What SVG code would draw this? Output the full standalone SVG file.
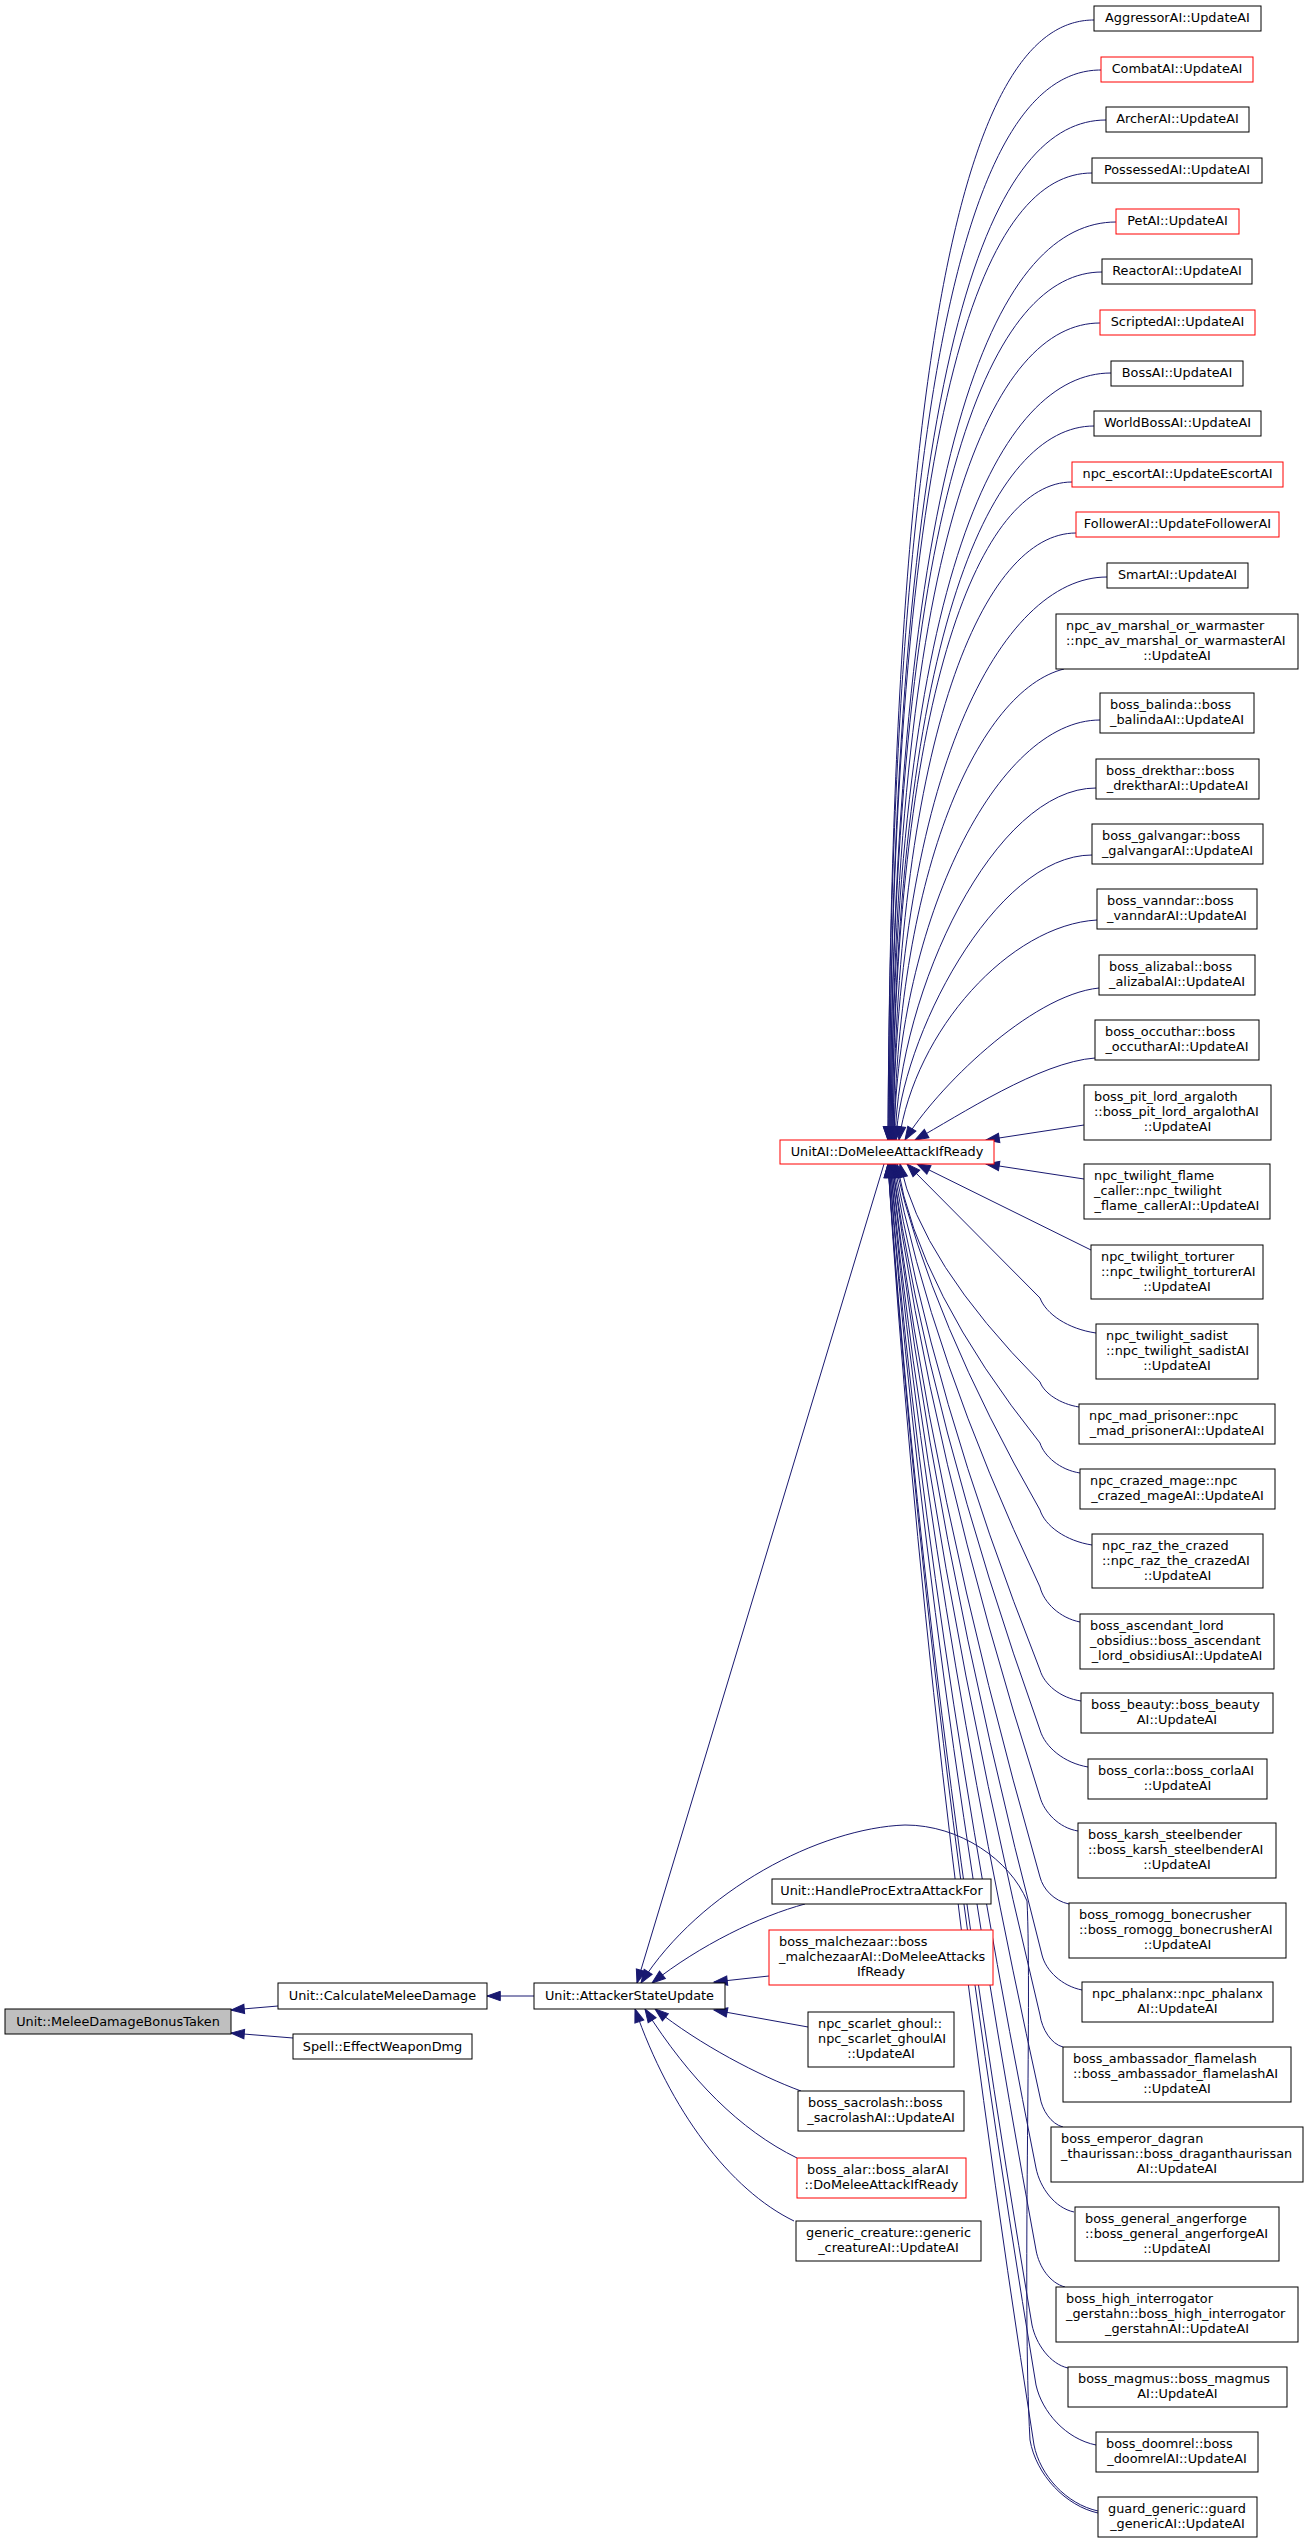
<svg xmlns="http://www.w3.org/2000/svg" width="1309" height="2543" viewBox="0 0 1309 2543">
<style>
text{font-family:"DejaVu Sans","Liberation Sans",sans-serif;font-size:12.85px;fill:#000}
.c{text-anchor:middle}
.n rect{fill:#fff;stroke:#000;stroke-width:1}
.r rect{stroke:#f00}
.g rect{fill:#bfbfbf}
.e path{fill:none;stroke:#191970;stroke-width:1;marker-end:url(#ah)}
</style>
<defs>
<marker id="ah" markerUnits="userSpaceOnUse" markerWidth="14" markerHeight="10" refX="13.3" refY="4.7" orient="auto" viewBox="0 0 14 10" style="overflow:visible">
<path d="M0,0 L13.3,4.7 L0,9.4 z" fill="#191970" stroke="#191970" stroke-width="1"/>
</marker>
</defs>
<rect width="1309" height="2543" fill="#fff"/>
<g id="edges" class="e">
<path d="M534,1996 L487,1996"/>
<path d="M278,2006 L231,2010"/>
<path d="M293,2038 L231,2033"/>
<path d="M884,1164 L637,1983"/>
<path d="M1098,2513 C1066,2506 1036,2475 1030,2440 C1022,2300 1032,2000 1027,1901 C1010,1860 960,1825 905,1825 C820,1828 700,1890 641,1983"/>
<path d="M805,1904 C760,1916 700,1945 652,1983"/>
<path d="M769,1976 L714,1982"/>
<path d="M808,2027 L714,2010"/>
<path d="M801,2091 C760,2076 700,2045 655,2009"/>
<path d="M797,2158 C740,2130 690,2080 645,2009"/>
<path d="M794,2221 C730,2190 670,2110 635,2009"/>
<path d="M1094,20 C991,20 892,220 888,1140"/>
<path d="M1101,70 C994,70 892,270 888,1140"/>
<path d="M1106,120 C997,120 893,320 889,1140"/>
<path d="M1092,173 C990,173 893,373 889,1140"/>
<path d="M1116,222 C1003,222 894,422 890,1140"/>
<path d="M1102,272 C996,272 894,472 890,1140"/>
<path d="M1100,323 C995,323 895,523 891,1140"/>
<path d="M1111,373 C1001,373 895,573 891,1140"/>
<path d="M1094,426 C993,426 896,626 892,1140"/>
<path d="M1072,482 C982,482 896,682 892,1140"/>
<path d="M1076,533 C984,533 897,733 893,1140"/>
<path d="M1107,577 C1000,577 897,777 893,1140"/>
<path d="M1064,669 C979,690 898,869 894,1140"/>
<path d="M1100,720 C997,720 898,920 894,1140"/>
<path d="M1096,788 C995,788 899,988 895,1140"/>
<path d="M1092,855 C994,855 900,1040 896,1140"/>
<path d="M1097,920 C1010,925 915,1030 899,1140"/>
<path d="M1099,988 C1030,995 935,1090 905,1140"/>
<path d="M1095,1058 C1040,1062 960,1115 915,1140"/>
<path d="M1084,1125 L986,1140"/>
<path d="M1084,1179 L986,1164"/>
<path d="M1091,1250 L917,1164"/>
<path d="M1096,1333 C1068,1329 1046,1314 1040,1298 L907,1164"/>
<path d="M1079,1407 C1060,1404 1044,1393 1040,1382 Q921,1262 900,1164"/>
<path d="M1080,1473 C1060,1470 1044,1456 1040,1443 Q918,1290 897,1164"/>
<path d="M1092,1545 C1066,1541 1045,1526 1040,1510 Q931,1320 895,1164"/>
<path d="M1080,1622 C1060,1618 1044,1603 1040,1587 Q930,1354 894,1164"/>
<path d="M1081,1701 C1060,1698 1044,1684 1040,1670 Q930,1392 893,1164"/>
<path d="M1088,1767 C1064,1763 1045,1747 1040,1730 Q929,1419 892,1164"/>
<path d="M1078,1831 C1059,1828 1044,1812 1040,1797 Q929,1449 892,1164"/>
<path d="M1069,1904 C1054,1901 1043,1889 1040,1877 Q928,1485 891,1164"/>
<path d="M1082,1990 C1062,1986 1046,1971 1042,1955 Q929,1520 891,1164"/>
<path d="M1063,2047 C1051,2044 1042,2029 1040,2015 Q927,1547 890,1164"/>
<path d="M1063,2127 C1051,2124 1042,2110 1040,2097 Q927,1584 890,1164"/>
<path d="M1074,2212 C1055,2208 1040,2188 1036,2168 Q926,1616 889,1164"/>
<path d="M1065,2287 C1050,2283 1039,2267 1036,2250 Q926,1653 889,1164"/>
<path d="M1068,2368 C1050,2364 1036,2344 1032,2325 Q924,1686 888,1164"/>
<path d="M1096,2445 C1066,2439 1042,2412 1036,2385 Q925,1713 888,1164"/>
<path d="M1098,2511 C1066,2504 1040,2475 1034,2445 Q924,1740 888,1164"/>
</g>
<g id="node_melee" class="n g"><rect x="5" y="2009" width="226" height="25"/><text class="c" x="118" y="2025.5">Unit::MeleeDamageBonusTaken</text></g>
<g id="node_calc" class="n"><rect x="278" y="1983" width="209" height="26"/><text class="c" x="382.5" y="1999.8">Unit::CalculateMeleeDamage</text></g>
<g id="node_spell" class="n"><rect x="293" y="2034" width="179" height="25"/><text class="c" x="382.5" y="2050.5">Spell::EffectWeaponDmg</text></g>
<g id="node_attacker" class="n"><rect x="534" y="1983" width="191" height="26"/><text class="c" x="629.5" y="1999.8">Unit::AttackerStateUpdate</text></g>
<g id="node_unitai" class="n r"><rect x="780" y="1140" width="214" height="24"/><text class="c" x="887" y="1156.3">UnitAI::DoMeleeAttackIfReady</text></g>
<g id="node_handleproc" class="n"><rect x="772" y="1879" width="219" height="25"/><text class="c" x="881.5" y="1895.3">Unit::HandleProcExtraAttackFor</text></g>
<g id="node_malchezaar" class="n r"><rect x="769" y="1930" width="224" height="55"/><text x="779" y="1946.3">boss_malchezaar::boss</text><text x="779" y="1960.9">_malchezaarAI::DoMeleeAttacks</text><text class="c" x="881" y="1975.5">IfReady</text></g>
<g id="node_ghoul" class="n"><rect x="808" y="2012" width="146" height="55"/><text x="818" y="2028.3">npc_scarlet_ghoul::</text><text x="818" y="2042.9">npc_scarlet_ghoulAI</text><text class="c" x="881" y="2057.5">::UpdateAI</text></g>
<g id="node_sacrolash" class="n"><rect x="798" y="2091" width="166" height="40"/><text x="808" y="2107.3">boss_sacrolash::boss</text><text class="c" x="881" y="2121.9">_sacrolashAI::UpdateAI</text></g>
<g id="node_alar" class="n r"><rect x="797" y="2158" width="169" height="40"/><text x="807" y="2174.3">boss_alar::boss_alarAI</text><text class="c" x="881.5" y="2188.9">::DoMeleeAttackIfReady</text></g>
<g id="node_generic" class="n"><rect x="796" y="2221" width="185" height="40"/><text x="806" y="2237.3">generic_creature::generic</text><text class="c" x="888.5" y="2251.9">_creatureAI::UpdateAI</text></g>
<g id="node_aggressor" class="n"><rect x="1094" y="6" width="167" height="25"/><text class="c" x="1177.5" y="22.3">AggressorAI::UpdateAI</text></g>
<g id="node_combat" class="n r"><rect x="1101" y="57" width="152" height="25"/><text class="c" x="1177" y="73.3">CombatAI::UpdateAI</text></g>
<g id="node_archer" class="n"><rect x="1106" y="107" width="143" height="25"/><text class="c" x="1177.5" y="123.3">ArcherAI::UpdateAI</text></g>
<g id="node_possessed" class="n"><rect x="1092" y="158" width="170" height="25"/><text class="c" x="1177" y="174.3">PossessedAI::UpdateAI</text></g>
<g id="node_pet" class="n r"><rect x="1116" y="209" width="123" height="25"/><text class="c" x="1177.5" y="225.3">PetAI::UpdateAI</text></g>
<g id="node_reactor" class="n"><rect x="1102" y="259" width="150" height="25"/><text class="c" x="1177" y="275.3">ReactorAI::UpdateAI</text></g>
<g id="node_scripted" class="n r"><rect x="1100" y="310" width="155" height="25"/><text class="c" x="1177.5" y="326.3">ScriptedAI::UpdateAI</text></g>
<g id="node_boss" class="n"><rect x="1111" y="361" width="132" height="25"/><text class="c" x="1177" y="377.3">BossAI::UpdateAI</text></g>
<g id="node_worldboss" class="n"><rect x="1094" y="411" width="167" height="25"/><text class="c" x="1177.5" y="427.3">WorldBossAI::UpdateAI</text></g>
<g id="node_escort" class="n r"><rect x="1072" y="462" width="211" height="25"/><text class="c" x="1177.5" y="478.3">npc_escortAI::UpdateEscortAI</text></g>
<g id="node_follower" class="n r"><rect x="1076" y="512" width="203" height="25"/><text class="c" x="1177.5" y="528.3">FollowerAI::UpdateFollowerAI</text></g>
<g id="node_smart" class="n"><rect x="1107" y="563" width="141" height="25"/><text class="c" x="1177.5" y="579.3">SmartAI::UpdateAI</text></g>
<g id="node_marshal" class="n"><rect x="1056" y="614" width="242" height="55"/><text x="1066" y="630.3">npc_av_marshal_or_warmaster</text><text x="1066" y="644.9">::npc_av_marshal_or_warmasterAI</text><text class="c" x="1177" y="659.5">::UpdateAI</text></g>
<g id="node_balinda" class="n"><rect x="1100" y="693" width="154" height="40"/><text x="1110" y="709.3">boss_balinda::boss</text><text class="c" x="1177" y="723.9">_balindaAI::UpdateAI</text></g>
<g id="node_drekthar" class="n"><rect x="1096" y="759" width="163" height="40"/><text x="1106" y="775.3">boss_drekthar::boss</text><text class="c" x="1177.5" y="789.9">_drektharAI::UpdateAI</text></g>
<g id="node_galvangar" class="n"><rect x="1092" y="824" width="171" height="40"/><text x="1102" y="840.3">boss_galvangar::boss</text><text class="c" x="1177.5" y="854.9">_galvangarAI::UpdateAI</text></g>
<g id="node_vanndar" class="n"><rect x="1097" y="889" width="160" height="40"/><text x="1107" y="905.3">boss_vanndar::boss</text><text class="c" x="1177" y="919.9">_vanndarAI::UpdateAI</text></g>
<g id="node_alizabal" class="n"><rect x="1099" y="955" width="156" height="40"/><text x="1109" y="971.3">boss_alizabal::boss</text><text class="c" x="1177" y="985.9">_alizabalAI::UpdateAI</text></g>
<g id="node_occuthar" class="n"><rect x="1095" y="1020" width="164" height="40"/><text x="1105" y="1036.3">boss_occuthar::boss</text><text class="c" x="1177" y="1050.9">_occutharAI::UpdateAI</text></g>
<g id="node_pitlord" class="n"><rect x="1084" y="1085" width="187" height="55"/><text x="1094" y="1101.3">boss_pit_lord_argaloth</text><text x="1094" y="1115.9">::boss_pit_lord_argalothAI</text><text class="c" x="1177.5" y="1130.5">::UpdateAI</text></g>
<g id="node_flame" class="n"><rect x="1084" y="1164" width="186" height="55"/><text x="1094" y="1180.3">npc_twilight_flame</text><text x="1094" y="1194.9">_caller::npc_twilight</text><text class="c" x="1177" y="1209.5">_flame_callerAI::UpdateAI</text></g>
<g id="node_torturer" class="n"><rect x="1091" y="1245" width="172" height="54"/><text x="1101" y="1261.3">npc_twilight_torturer</text><text x="1101" y="1275.9">::npc_twilight_torturerAI</text><text class="c" x="1177" y="1290.5">::UpdateAI</text></g>
<g id="node_sadist" class="n"><rect x="1096" y="1324" width="162" height="55"/><text x="1106" y="1340.3">npc_twilight_sadist</text><text x="1106" y="1354.9">::npc_twilight_sadistAI</text><text class="c" x="1177" y="1369.5">::UpdateAI</text></g>
<g id="node_madprisoner" class="n"><rect x="1079" y="1404" width="196" height="40"/><text x="1089" y="1420.3">npc_mad_prisoner::npc</text><text class="c" x="1177" y="1434.9">_mad_prisonerAI::UpdateAI</text></g>
<g id="node_crazedmage" class="n"><rect x="1080" y="1469" width="195" height="40"/><text x="1090" y="1485.3">npc_crazed_mage::npc</text><text class="c" x="1177.5" y="1499.9">_crazed_mageAI::UpdateAI</text></g>
<g id="node_raz" class="n"><rect x="1092" y="1534" width="171" height="54"/><text x="1102" y="1550.3">npc_raz_the_crazed</text><text x="1102" y="1564.9">::npc_raz_the_crazedAI</text><text class="c" x="1177.5" y="1579.5">::UpdateAI</text></g>
<g id="node_ascendant" class="n"><rect x="1080" y="1614" width="194" height="55"/><text x="1090" y="1630.3">boss_ascendant_lord</text><text x="1090" y="1644.9">_obsidius::boss_ascendant</text><text class="c" x="1177" y="1659.5">_lord_obsidiusAI::UpdateAI</text></g>
<g id="node_beauty" class="n"><rect x="1081" y="1693" width="192" height="40"/><text x="1091" y="1709.3">boss_beauty::boss_beauty</text><text class="c" x="1177" y="1723.9">AI::UpdateAI</text></g>
<g id="node_corla" class="n"><rect x="1088" y="1759" width="179" height="40"/><text x="1098" y="1775.3">boss_corla::boss_corlaAI</text><text class="c" x="1177.5" y="1789.9">::UpdateAI</text></g>
<g id="node_karsh" class="n"><rect x="1078" y="1823" width="198" height="55"/><text x="1088" y="1839.3">boss_karsh_steelbender</text><text x="1088" y="1853.9">::boss_karsh_steelbenderAI</text><text class="c" x="1177" y="1868.5">::UpdateAI</text></g>
<g id="node_romogg" class="n"><rect x="1069" y="1903" width="217" height="55"/><text x="1079" y="1919.3">boss_romogg_bonecrusher</text><text x="1079" y="1933.9">::boss_romogg_bonecrusherAI</text><text class="c" x="1177.5" y="1948.5">::UpdateAI</text></g>
<g id="node_phalanx" class="n"><rect x="1082" y="1982" width="191" height="40"/><text x="1092" y="1998.3">npc_phalanx::npc_phalanx</text><text class="c" x="1177.5" y="2012.9">AI::UpdateAI</text></g>
<g id="node_ambassador" class="n"><rect x="1063" y="2047" width="228" height="55"/><text x="1073" y="2063.3">boss_ambassador_flamelash</text><text x="1073" y="2077.9">::boss_ambassador_flamelashAI</text><text class="c" x="1177" y="2092.5">::UpdateAI</text></g>
<g id="node_emperor" class="n"><rect x="1051" y="2127" width="252" height="55"/><text x="1061" y="2143.3">boss_emperor_dagran</text><text x="1061" y="2157.9">_thaurissan::boss_draganthaurissan</text><text class="c" x="1177" y="2172.5">AI::UpdateAI</text></g>
<g id="node_angerforge" class="n"><rect x="1075" y="2207" width="204" height="54"/><text x="1085" y="2223.3">boss_general_angerforge</text><text x="1085" y="2237.9">::boss_general_angerforgeAI</text><text class="c" x="1177" y="2252.5">::UpdateAI</text></g>
<g id="node_interrogator" class="n"><rect x="1056" y="2287" width="242" height="55"/><text x="1066" y="2303.3">boss_high_interrogator</text><text x="1066" y="2317.9">_gerstahn::boss_high_interrogator</text><text class="c" x="1177" y="2332.5">_gerstahnAI::UpdateAI</text></g>
<g id="node_magmus" class="n"><rect x="1068" y="2367" width="219" height="40"/><text x="1078" y="2383.3">boss_magmus::boss_magmus</text><text class="c" x="1177.5" y="2397.9">AI::UpdateAI</text></g>
<g id="node_doomrel" class="n"><rect x="1096" y="2432" width="162" height="40"/><text x="1106" y="2448.3">boss_doomrel::boss</text><text class="c" x="1177" y="2462.9">_doomrelAI::UpdateAI</text></g>
<g id="node_guard" class="n"><rect x="1098" y="2497" width="159" height="40"/><text x="1108" y="2513.3">guard_generic::guard</text><text class="c" x="1177.5" y="2527.9">_genericAI::UpdateAI</text></g>
</svg>
